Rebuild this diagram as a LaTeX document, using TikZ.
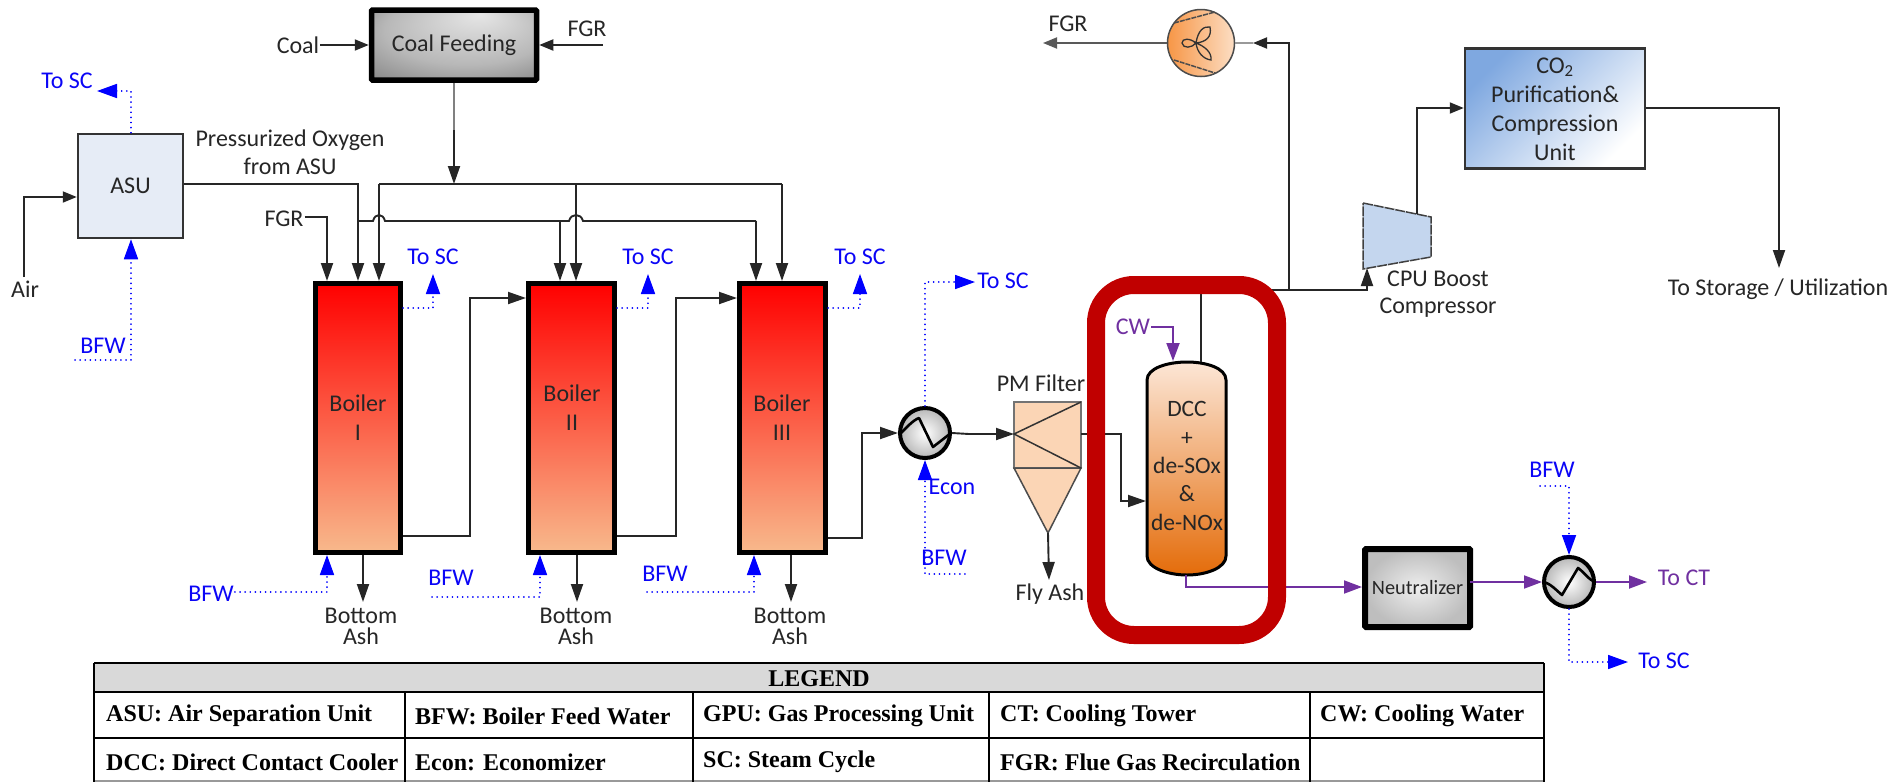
\documentclass[tikz,border=0pt]{standalone}
\usepackage{fontspec}
\setmainfont{Carlito}
\newfontfamily\lgf{Liberation Serif}
\usetikzlibrary{arrows.meta}
\definecolor{pur}{HTML}{7030A0}
\definecolor{lblue}{HTML}{0000FF}
\definecolor{redbox}{HTML}{C00000}
\definecolor{boilbot}{HTML}{F8B98C}
\definecolor{asufill}{HTML}{E6ECF6}
\definecolor{pmfill}{HTML}{FBD5B5}
\definecolor{fanl}{HTML}{F79646}
\definecolor{fanr}{HTML}{FCDEC4}
\definecolor{compfill}{HTML}{C4D6EE}
\definecolor{cpul}{HTML}{7FA8E0}
\definecolor{vest}{HTML}{FCE6D6}
\definecolor{vesb}{HTML}{E46C0A}
\definecolor{neui}{HTML}{EEEEEE}
\definecolor{neuo}{HTML}{BEBEBE}
\pgfdeclareradialshading{coalshade}{\pgfpoint{8bp}{22bp}}{rgb(0bp)=(.90,.90,.90);rgb(25bp)=(.72,.72,.72);rgb(50bp)=(.40,.40,.40)}
\tikzset{
  x=1pt,y=-1pt,
  fl/.style={draw=black!85,line width=1.9pt,line join=miter},
  fa/.style={fl,-{Triangle[length=18pt,width=12pt]}},
  fas/.style={fl,-{Triangle[length=14pt,width=11pt]}},
  pl/.style={draw=pur,line width=1.9pt},
  pa/.style={pl,-{Triangle[length=18pt,width=13pt]}},
  bd/.style={draw=lblue,line width=1.7pt,line cap=round,dash pattern=on 0.1pt off 5pt},
  ba/.style={bd,-{Triangle[length=20pt,width=14pt]}},
  txt/.style={inner sep=1pt,align=center,text=black!85,font=\fontsize{24}{29}\selectfont},
  btxt/.style={txt,text=lblue!90!pur},
  ptxt/.style={txt,text=pur},
  boiler/.style={draw=black,line width=5pt,minimum width=85pt,minimum height=269pt,inner sep=0pt,top color=red,bottom color=boilbot},
  cell/.style={anchor=west,inner sep=0pt,font=\lgf\bfseries\fontsize{24}{28}\selectfont,text=black},
  rule/.style={draw=black,line width=2.5pt},
  hx/.style={circle,draw=black,line width=4pt,minimum size=50pt,inner sep=0pt,inner color=white,outer color=black!28},
}
\begin{document}
\begin{tikzpicture}
\useasboundingbox (0,0) rectangle (1893,782);

% main units
\node[txt,draw=black,line width=5.5pt,rounded corners=1pt,minimum width=165pt,minimum height=70pt,shading=coalshade,inner sep=0pt] (cf) at (454,45) {Coal Feeding};
\node[txt,draw=black!80,line width=2.5pt,fill=asufill,minimum width=105pt,minimum height=104pt,inner sep=0pt] (asu) at (130.5,186) {ASU};
\node[boiler] (b1) at (358,418) {};
\node[boiler,minimum width=86pt] (b2) at (571.5,418) {};
\node[boiler,minimum width=86pt] (b3) at (782.5,418) {};
\node[txt] (t1) at (358,418) {Boiler\\I};
\node[txt] (t2) at (572,408) {Boiler\\II};
\node[txt] (t3) at (782,418) {Boiler\\III};
\node[hx] (hx1) at (925,433) {};
\draw[black,line width=2.6pt,line join=round] (899,435) .. controls (905,429) and (913,420) .. (919,418) -- (933,447) -- (951,433);
\node[hx] (hx2) at (1569,582) {};
\draw[black,line width=2.6pt,line join=round] (1543,582) .. controls (1550,583) and (1556,590) .. (1562,595) -- (1578,568) .. controls (1584,572) and (1589,580) .. (1595,582);

% PM filter
\draw[draw=black!55,line width=1.5pt,fill=pmfill] (1014,402) rectangle (1081,468);
\draw[draw=black!70,line width=1.5pt,fill=pmfill] (1014,468) -- (1081,468) -- (1048,533) -- cycle;
\draw[black!80,line width=1.5pt] (1081,402) -- (1014,434) -- (1081,468);
\coordinate (pmin) at (1014,434);
\coordinate (pmout) at (1081,434);
\coordinate (pmtip) at (1048,533);

% fan
\node[circle,draw=black!70,line width=1.5pt,minimum size=67pt,inner sep=0pt,left color=fanl,right color=fanr] (fan) at (1201,43) {};
\draw[black!70,line width=1.5pt,dash pattern=on 5pt off 1pt] (1174,23) -- (1215,12) (1174,60) -- (1215,73);
\draw[black!80,line width=1.3pt] (1196,43) .. controls (1198,30) and (1204,26) .. (1210,27) .. controls (1212,37) and (1206,42) .. (1196,43)
  .. controls (1204,46) and (1212,52) .. (1211,60) .. controls (1203,59) and (1197,52) .. (1196,43)
  .. controls (1190,38) and (1182,38) .. (1182,43) .. controls (1183,49) and (1192,48) .. (1196,43);

% compressor
\draw[draw=black!75,line width=1.5pt,dash pattern=on 10pt off 1pt,fill=compfill] (1363,203) -- (1431,217) -- (1431,257) -- (1363,269) -- cycle;
\coordinate (compin) at (1367,268);
\coordinate (compout) at (1417,214);

% CO2 unit
\node[draw=black!80,line width=2.5pt,top color=cpul,bottom color=white,shading angle=45,minimum width=180pt,minimum height=120pt,inner sep=0pt] (cpu) at (1555,108.5) {};
\node[txt] (tcpu) at (1555,109) {CO\textsubscript{2}\\Purification\&\\Compression\\Unit};

% vessel
\draw[black,line width=3pt,top color=vest,bottom color=vesb] (1147,380) .. controls (1147,368) and (1168,362) .. (1187,362) .. controls (1206,362) and (1226,368) .. (1226,380) -- (1226,556) .. controls (1226,568) and (1206,575) .. (1187,575) .. controls (1168,575) and (1147,568) .. (1147,556) -- cycle;
\node[txt,font=\fontsize{23.5}{28.4}\selectfont] (dcc) at (1187,466) {DCC\\+\\de-SOx\\\&\\de-NOx};
\coordinate (dcctop) at (1201,362);
\coordinate (dcctopp) at (1173,361);
\coordinate (dccin) at (1146,501);
\coordinate (dccbot) at (1186,575);

% neutralizer
\node[txt,font=\fontsize{20.3}{24}\selectfont,draw=black,line width=6pt,rounded corners=1pt,inner color=neui,outer color=neuo,minimum width=105pt,minimum height=78pt,inner sep=0pt] (neu) at (1417.5,588) {Neutralizer};

% labels
\node[txt] (lcoal) at (298,45) {Coal};
\node[txt] (lfgr0) at (587,29) {FGR};
\node[txt] (lfgr1) at (284,219) {FGR};
\node[txt] (lfgr2) at (1068,24) {FGR};
\node[txt] (lair) at (25,289) {Air};
\node[txt,font=\fontsize{24}{28}\selectfont] (lox) at (290,152) {Pressurized Oxygen\\from ASU};
\node[txt,font=\fontsize{24}{21}\selectfont] (la1) at (361,626) {Bottom\\Ash};
\node[txt,font=\fontsize{24}{21}\selectfont] (la2) at (576,626) {Bottom\\Ash};
\node[txt,font=\fontsize{24}{21}\selectfont] (la3) at (790,626) {Bottom\\Ash};
\node[txt] (lpm) at (1041,383) {PM Filter};
\node[txt] (lfly) at (1050,594) {Fly Ash};
\node[txt,font=\fontsize{24}{27.5}\selectfont] (lboost) at (1438,294) {CPU Boost\\Compressor};
\node[txt] (lsto) at (1778,289) {To Storage / Utilization};
\node[ptxt] (lcw) at (1133,327) {CW};
\node[ptxt] (lct) at (1684,578) {To CT};
\node[btxt] (sc0) at (67,81) {To SC};
\node[btxt] (sc1) at (433,257) {To SC};
\node[btxt] (sc2) at (648,257) {To SC};
\node[btxt] (sc3) at (860,257) {To SC};
\node[btxt] (sc4) at (1003,281) {To SC};
\node[btxt] (sc5) at (1664,661) {To SC};
\node[btxt] (bfw0) at (103,346) {BFW};
\node[btxt] (bfw1) at (211,594) {BFW};
\node[btxt] (bfw2) at (451,578) {BFW};
\node[btxt] (bfw3) at (665,574) {BFW};
\node[btxt] (bfw4) at (944,558) {BFW};
\node[btxt] (bfw5) at (1552,470) {BFW};
\node[btxt] (econ) at (952,487) {Econ};

% black connectors
\coordinate (fgr0) at (603,45);
\draw[fas] (fgr0) -- (cf.east);
\draw[fas] (lcoal.east) -- (cf.west);
\coordinate (hc) at (454,184);
\coordinate (cfm) at (454,130);
\coordinate (h0) at (379,184);
\coordinate (h2) at (576,184);
\coordinate (h3) at (782,184);
\draw[fl,draw=black!50,line width=2.4pt] (cf.south) -- (cfm);
\draw[fa] (cfm) -- (hc);
\draw[fl] (h0) -- (h3);
\draw[fa] (h0) -- (h0 |- b1.north);
\draw[fa] (h2) -- (h2 |- b2.north);
\draw[fa] (h3) -- (h3 |- b3.north);
\coordinate (o2) at (358,184);
\draw[fa] (asu.east |- o2) -- (o2) -- (o2 |- b1.north);
\coordinate (r0) at (358,221);
\coordinate (r2) at (560,221);
\coordinate (r3) at (756,221);
\draw[fl] (r0) -- (373,221) .. controls (375,213) and (383,213) .. (385,221) -- (569,221) .. controls (571,213) and (581,213) .. (583,221) -- (r3);
\draw[fa] (r2) -- (r2 |- b2.north);
\draw[fa] (r3) -- (r3 |- b3.north);
\coordinate (f1) at (327,217);
\draw[fa] (lfgr1.east |- f1) -- (f1) -- (f1 |- b1.north);
\coordinate (air) at (24,277);
\coordinate (air2) at (24,197);
\draw[fas] (air) -- (air2) -- (air2 -| asu.west);
\coordinate (o1a) at (470,536);
\coordinate (o1b) at (470,298);
\draw[fa] (b1.east |- o1a) -- (o1a) -- (o1b) -- (o1b -| b2.west);
\coordinate (o2a) at (676,536);
\coordinate (o2b) at (676,298);
\draw[fa] (b2.east |- o2a) -- (o2a) -- (o2b) -- (o2b -| b3.west);
\coordinate (o3a) at (862,538);
\coordinate (o3b) at (862,433);
\draw[fa] (b3.east |- o3a) -- (o3a) -- (o3b) -- (hx1.west);
\coordinate (hxm) at (969,434);
\draw[fa] (hx1.east) -- (hxm) -- (pmin);
\coordinate (a1) at (363,602);
\coordinate (a2) at (577,602);
\coordinate (a3) at (791,602);
\draw[fa] (a1 |- b1.south) -- (a1);
\draw[fa] (a2 |- b2.south) -- (a2);
\draw[fa] (a3 |- b3.south) -- (a3);
\coordinate (flyend) at (1049,580);
\draw[fa] (pmtip) -- (flyend);
\coordinate (pm2) at (1121,434);
\coordinate (pm3) at (1121,501);
\draw[fa] (pmout) -- (pm2) -- (pm3) -- (dccin);
\coordinate (g0) at (1201,290);
\coordinate (g1) at (1289,290);
\coordinate (g2) at (1367,290);
\coordinate (g3) at (1289,43);
\coordinate (g4) at (1253,43);
\draw[fl] (dcctop) -- (g0) -- (g1);
\draw[fa] (g1) -- (g2) -- (compin);
\draw[fl,draw=black!40] (g4) -- (fan.east);
\draw[fas] (g1) -- (g3) -- (g4);
\coordinate (fgr2) at (1043,43);
\draw[fl,-{Triangle[length=14pt,width=11pt]},draw=black!65] (fan.west) -- (fgr2);
\coordinate (c1) at (1417,108);
\draw[fas] (compout) -- (c1) -- (cpu.west |- c1);
\coordinate (c2) at (1779,108);
\coordinate (c3) at (1779,268);
\draw[fa] (cpu.east |- c2) -- (c2) -- (c3);

% purple connectors
\coordinate (cw1) at (1173,327);
\draw[pa] (lcw.east) -- (cw1) -- (dcctopp);
\coordinate (pb) at (1186,587);
\draw[pa] (dccbot) -- (pb) -- (pb -| neu.west);
\coordinate (nb) at (1470,582);
\draw[pa] (nb) -- (hx2.west);
\coordinate (ct) at (1647,582);
\draw[pa] (hx2.east) -- (ct);

% blue dotted connectors
\coordinate (s0a) at (131,91);
\coordinate (s0b) at (97,91);
\draw[ba] (asu.north -| s0a) -- (s0a) -- (s0b);
\coordinate (bw0) at (131,360);
\coordinate (bw0l) at (75,360);
\draw[ba] (bw0l) -- (bw0) -- (bw0 |- asu.south);
\coordinate (s1a) at (433,308);
\coordinate (s1b) at (433,274);
\draw[ba] (b1.east |- s1a) -- (s1a) -- (s1b);
\coordinate (s2a) at (648,308);
\coordinate (s2b) at (648,274);
\draw[ba] (b2.east |- s2a) -- (s2a) -- (s2b);
\coordinate (s3a) at (860,308);
\coordinate (s3b) at (860,274);
\draw[ba] (b3.east |- s3a) -- (s3a) -- (s3b);
\coordinate (w1) at (327,592);
\coordinate (w2) at (540,597);
\coordinate (w2l) at (432,597);
\coordinate (w3) at (754,592);
\coordinate (w3l) at (647,592);
\draw[ba] (bfw1.east |- w1) -- (w1) -- (w1 |- b1.south);
\draw[ba] (w2l) -- (w2) -- (w2 |- b2.south);
\draw[ba] (w3l) -- (w3) -- (w3 |- b3.south);
\coordinate (e1) at (925,282);
\coordinate (e2) at (975,282);
\draw[ba] (hx1.north) -- (e1) -- (e2);
\coordinate (e3) at (925,574);
\coordinate (e4) at (965,574);
\draw[ba] (e4) -- (e3) -- (hx1.south);
\coordinate (k0) at (1540,486);
\coordinate (k1) at (1569,486);
\draw[ba] (k0) -- (k1) -- (hx2.north);
\coordinate (k2) at (1569,662);
\coordinate (k3) at (1628,662);
\draw[ba] (hx2.south) -- (k2) -- (k3);

% highlight
\node[draw=redbox,line width=18pt,rounded corners=38pt,minimum width=181pt,minimum height=350pt,inner sep=0pt] (hl) at (1186.5,460) {};

% legend
\fill[black!15] (94,663) rectangle (1544,692);
\draw[rule] (94,663) -- (1544,663);
\draw[rule] (94,692) -- (1544,692);
\draw[rule] (94,738) -- (1544,738);
\draw[draw=black!40,line width=2pt] (94,781) -- (1544,781);
\draw[draw=black,line width=1.5pt] (94,663) -- (94,782) (1544,663) -- (1544,782);
\foreach \cx in {405,693,989,1310} \draw[draw=black,line width=1.5pt] (\cx,692) -- (\cx,782);
\node[cell,anchor=center] (lh) at (819,679) {LEGEND};
\node[cell] (c11) at (106,716) {ASU: Air Separation Unit};
\node[cell] (c12) at (415,716) {BFW: Boiler Feed Water};
\node[cell] (c13) at (703,716) {GPU: Gas Processing Unit};
\node[cell] (c14) at (1000,716) {CT: Cooling Tower};
\node[cell] (c15) at (1320,716) {CW: Cooling Water};
\node[cell] (c21) at (106,762) {DCC: Direct Contact Cooler};
\node[cell] (c22) at (415,762) {Econ: Economizer};
\node[cell] (c23) at (703,762) {SC: Steam Cycle};
\node[cell] (c24) at (1000,762) {FGR: Flue Gas Recirculation};
\end{tikzpicture}
\end{document}
